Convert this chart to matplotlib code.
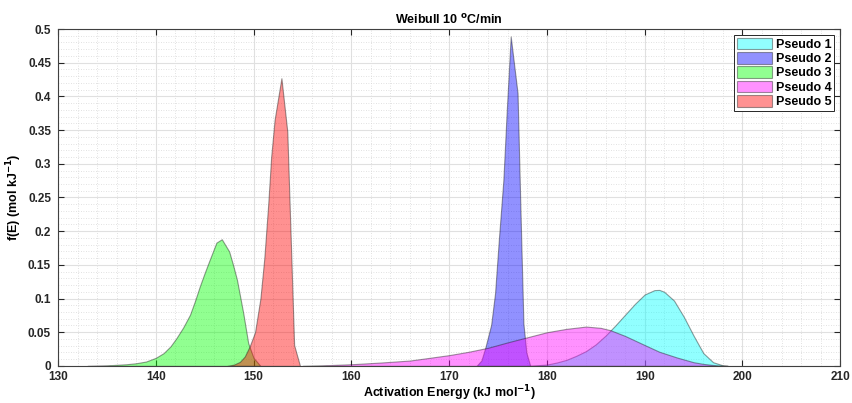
import numpy as np
import matplotlib
matplotlib.use("Agg")
import matplotlib.pyplot as plt
from matplotlib.ticker import MultipleLocator

plt.rcParams['font.family'] = ['Liberation Sans', 'DejaVu Sans']

# values (kJ/mol, mol/kJ)
e_p1 = [178.0, 180.0, 181.0, 182.0, 183.0, 184.0, 185.0, 186.0, 187.0, 188.0, 189.0,
        190.0, 191.0, 191.5, 192.0, 193.0, 194.0, 195.0, 196.0, 197.0, 198.0, 198.5]
f_p1 = [0.0, 0.002, 0.005, 0.009, 0.015, 0.022, 0.032, 0.045, 0.06, 0.076, 0.092,
        0.106, 0.1125, 0.1128, 0.11, 0.097, 0.073, 0.045, 0.019, 0.0055, 0.0008, 0.0]

e_p2 = [172.8, 173.3, 173.7, 174.3, 174.7, 175.1, 175.55, 175.9, 176.3, 177.0, 177.3,
        177.6, 177.9, 178.3]
f_p2 = [0.0, 0.008, 0.027, 0.061, 0.108, 0.19, 0.276, 0.38, 0.489, 0.405, 0.23,
        0.063, 0.02, 0.0]

e_p3 = [133.0, 135.0, 137.0, 138.0, 139.0, 140.0, 140.8, 141.5, 142.1, 142.8, 143.5,
        144.0, 144.5, 145.0, 145.5, 146.2, 146.75, 147.5, 147.9, 148.3, 148.95, 149.45,
        150.0, 150.7]
f_p3 = [0.0, 0.0008, 0.0025, 0.004, 0.0065, 0.012, 0.019, 0.029, 0.041, 0.057, 0.076,
        0.096, 0.118, 0.138, 0.157, 0.183, 0.188, 0.17, 0.15, 0.128, 0.078, 0.034,
        0.012, 0.0]

e_p4 = [155.0, 157.0, 160.0, 163.0, 166.0, 168.0, 170.0, 172.0, 174.0, 176.0, 178.0,
        180.0, 182.0, 184.0, 185.5, 186.5, 188.0, 190.0, 191.5, 193.3, 195.0, 196.0,
        197.5, 198.5]
f_p4 = [0.0, 0.0008, 0.0025, 0.005, 0.008, 0.012, 0.016, 0.021, 0.027, 0.035, 0.0425,
        0.05, 0.055, 0.0584, 0.0565, 0.053, 0.0445, 0.031, 0.021, 0.0125, 0.0055, 0.003,
        0.0005, 0.0]

e_p5 = [147.3, 148.0, 148.6, 149.1, 149.6, 150.15, 150.7, 151.1, 151.5, 151.8, 152.15,
        152.85, 153.45, 154.15, 154.75]
f_p5 = [0.0, 0.002, 0.006, 0.014, 0.029, 0.05, 0.1, 0.16, 0.24, 0.31, 0.365,
        0.427, 0.348, 0.031, 0.0]

series = [
    ("Pseudo 1", e_p1, f_p1, "#00FFFF"),
    ("Pseudo 2", e_p2, f_p2, "#0000FF"),
    ("Pseudo 3", e_p3, f_p3, "#00FF00"),
    ("Pseudo 4", e_p4, f_p4, "#FF00FF"),
    ("Pseudo 5", e_p5, f_p5, "#FF0000"),
]

fig = plt.figure(figsize=(8.53, 4.03), dpi=100)
ax = fig.add_axes([0.068, 0.092, 0.917, 0.836])

for name, e, f, col in series:
    ax.fill_between(e, f, 0, facecolor=col, alpha=0.43, edgecolor="#1a1a1a",
                    linewidth=0.8, label=name)

ax.set_xlim(130, 210)
ax.set_ylim(0, 0.5)
ax.xaxis.set_major_locator(MultipleLocator(10))
ax.xaxis.set_minor_locator(MultipleLocator(2))
ax.yaxis.set_major_locator(MultipleLocator(0.05))
ax.yaxis.set_minor_locator(MultipleLocator(0.01))
ax.set_yticklabels(["0" if v == 0 else f"{v:g}" for v in ax.get_yticks()])

ax.grid(which="major", color="#e0e0e0", linewidth=0.8)
ax.grid(which="minor", color="#d8d8d8", linestyle=(0, (1, 2)), linewidth=0.6)
ax.set_axisbelow(True)

ax.tick_params(which="both", direction="in", top=True, right=True, colors="#262626",
               labelsize=8.5)
ax.tick_params(which="major", length=4)
ax.tick_params(axis="x", which="major", pad=3.5)
ax.tick_params(axis="y", which="major", pad=5)
ax.tick_params(which="minor", length=0)
for lab in ax.get_xticklabels() + ax.get_yticklabels():
    lab.set_fontweight("bold")
for sp in ax.spines.values():
    sp.set_color("#404040")
    sp.set_linewidth(0.8)

ax.set_title("Weibull 10 $\\mathbf{^{o}}$C/min", fontsize=9, fontweight="bold", pad=4)
ax.set_xlabel("Activation Energy (kJ mol$\\mathbf{^{-1}}$)", fontsize=9, fontweight="bold",
              labelpad=0.5)
ax.set_ylabel("f(E) (mol kJ$\\mathbf{^{-1}}$)", fontsize=9, fontweight="bold", labelpad=3)

leg = ax.legend(loc="upper right", prop={"weight": "bold", "size": 9},
                fancybox=False, framealpha=1, edgecolor="#262626", borderpad=0.2,
                labelspacing=0.1, handlelength=2.8, handleheight=1.05, handletextpad=0.3,
                borderaxespad=0.5)
leg.get_frame().set_linewidth(0.7)

fig.savefig("out.png", dpi=100)
